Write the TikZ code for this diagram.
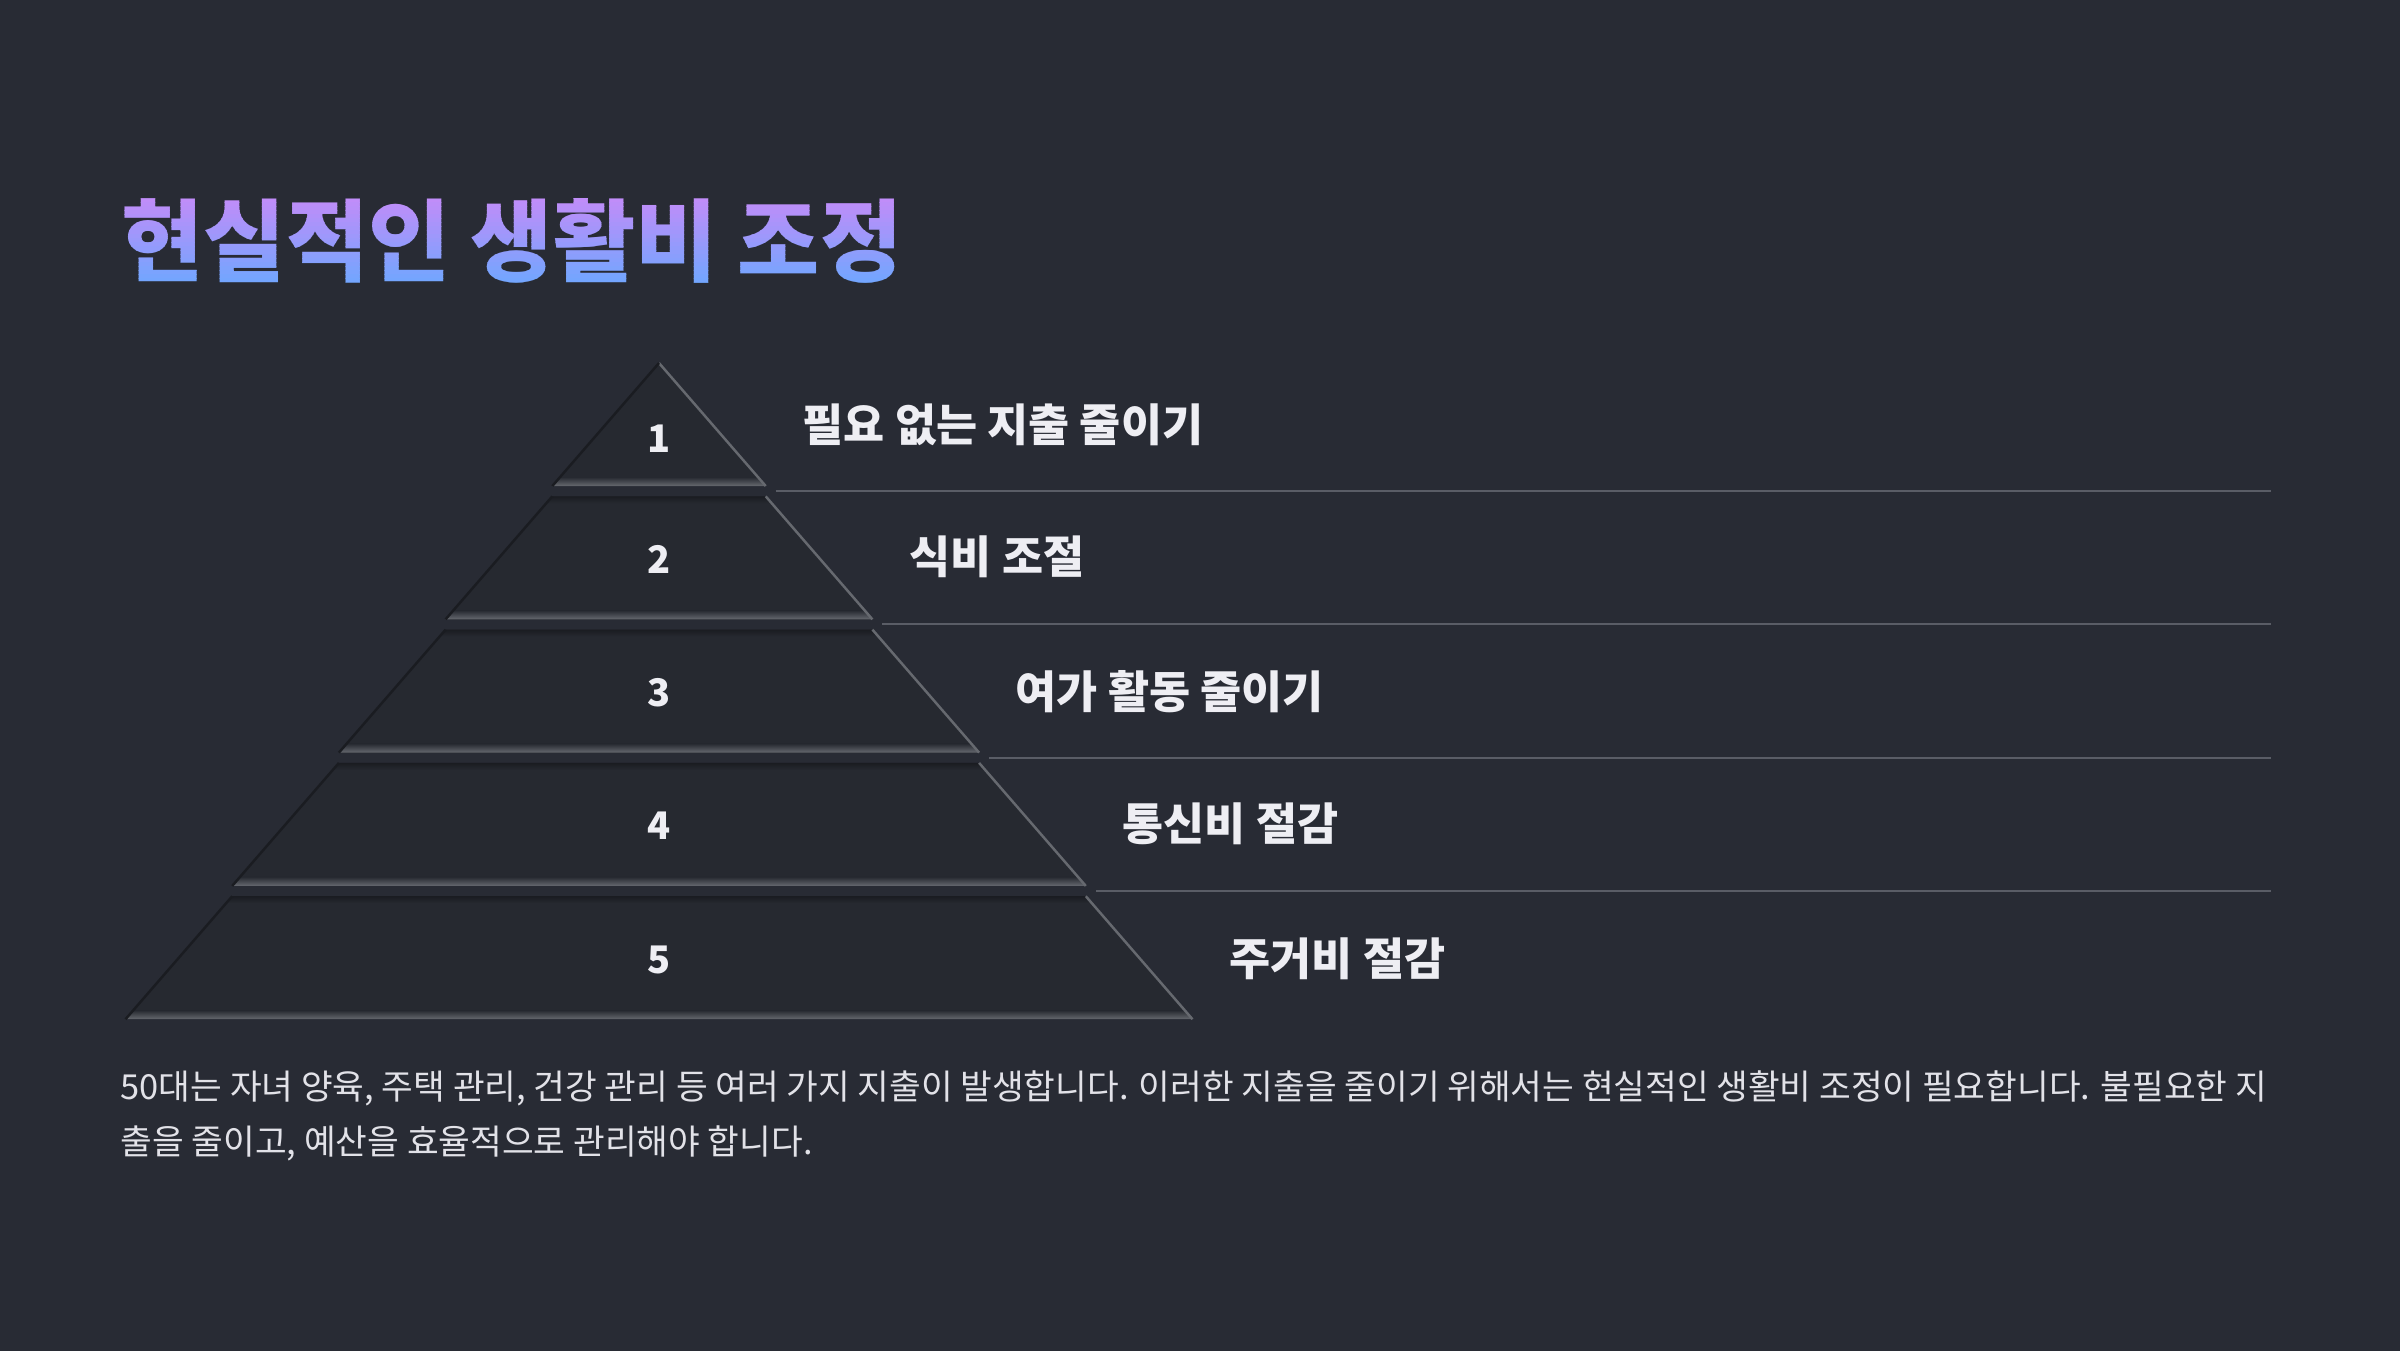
\documentclass[tikz,border=0pt]{standalone}
\usepackage{fontspec}
\setmainfont{Noto Sans CJK KR}
\definecolor{bgcol}{HTML}{282B34}
\definecolor{tiercol}{HTML}{262930}
\definecolor{edgelight}{HTML}{66696F}
\definecolor{edgedark}{HTML}{1A1C21}
\definecolor{rulecol}{HTML}{5A5D66}
\definecolor{labelcol}{HTML}{EEEEF3}
\definecolor{bodycol}{HTML}{E2E2E8}
\definecolor{titletop}{HTML}{C88AF8}
\definecolor{titlebot}{HTML}{68A9FF}

\begin{document}
\begin{tikzpicture}[x=0.01cm,y=-0.01cm,
    titletext/.style={anchor=base west,inner sep=0pt,font=\fontsize{25.4}{30}\selectfont\bfseries},
    tiernum/.style={inner sep=0pt,text=labelcol,font=\fontsize{10.8}{13}\selectfont\bfseries},
    tiertext/.style={anchor=west,inner sep=0pt,text=labelcol,font=\fontsize{12.7}{15}\selectfont\bfseries},
    bodytext/.style={anchor=base west,inner sep=0pt,text=bodycol,font=\fontsize{9.8}{15}\selectfont},
    sepline/.style={rulecol,line width=0.55pt}]
  \useasboundingbox (0,0) rectangle (2400,1350);
  \fill[bgcol] (-20,-20) rectangle (2420,1370);

  % title, purple at the top fading to blue at the bottom
  \foreach \i in {0,...,24}{
    \pgfmathtruncatemacro\p{100-4*\i}
    \begin{scope}
      \clip (100,190+4*\i) rectangle (1000,194+4*\i);
      \node[titletext,text=titletop!\p!titlebot] (title\i) at (121,274) {현실적인 생활비 조정};
    \end{scope}
  }

  % pyramid tiers
  \foreach \k in {1,...,5}{
    \pgfmathsetmacro\ty{363+133.3*(\k-1)}
    \pgfmathsetmacro\by{\ty+123}
    \pgfmathsetmacro\tw{106.7*(\k-1)}
    \pgfmathsetmacro\bw{106.7*\k}
    \fill[tiercol] (659-\tw,\ty) -- (659+\tw,\ty) -- (659+\bw,\by) -- (659-\bw,\by) -- cycle;
    \shade[top color=tiercol,bottom color=edgelight] (659-\bw+8,\by-9) -- (659+\bw-8,\by-9) -- (659+\bw,\by) -- (659-\bw,\by) -- cycle;
    \ifnum\k>1
      \shade[top color=edgedark,bottom color=tiercol] (659-\tw,\ty) -- (659+\tw,\ty) -- (659+\tw+6,\ty+7) -- (659-\tw-6,\ty+7) -- cycle;
    \fi
    \draw[edgelight,line width=0.7pt] (659+\tw,\ty) -- (659+\bw,\by);
    \draw[edgedark,line width=0.7pt] (659-\tw,\ty) -- (659-\bw,\by);
    \ifnum\k<5
      \coordinate (s\k) at (659+\bw+10,\by+5);
      \coordinate (e\k) at (2271,\by+5);
      \draw[sepline] (s\k) -- (e\k);
    \fi
  }

  \node[tiernum] (n1) at (659,439) {1};
  \node[tiernum] (n2) at (659,559) {2};
  \node[tiernum] (n3) at (659,693) {3};
  \node[tiernum] (n4) at (659,826) {4};
  \node[tiernum] (n5) at (659,960) {5};

  \node[tiertext] (t1) at (802,425) {필요 없는 지출 줄이기};
  \node[tiertext] (t2) at (909,557) {식비 조절};
  \node[tiertext] (t3) at (1015,692) {여가 활동 줄이기};
  \node[tiertext] (t4) at (1122,824) {통신비 절감};
  \node[tiertext] (t5) at (1229,959) {주거비 절감};

  \node[bodytext] (body1) at (120,1099) {50대는 자녀 양육, 주택 관리, 건강 관리 등 여러 가지 지출이 발생합니다. 이러한 지출을 줄이기 위해서는 현실적인 생활비 조정이 필요합니다. 불필요한 지};
  \node[bodytext] (body2) at (120,1154) {출을 줄이고, 예산을 효율적으로 관리해야 합니다.};
\end{tikzpicture}
\end{document}
